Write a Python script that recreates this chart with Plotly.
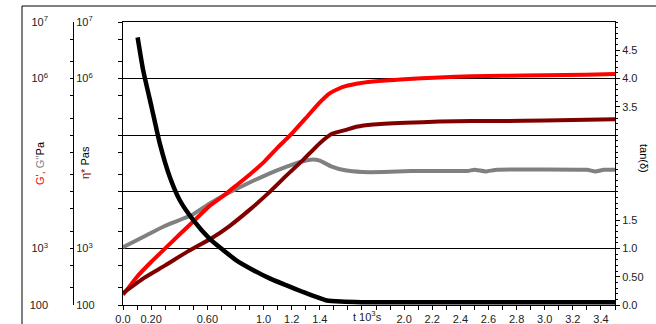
import plotly.graph_objects as go

# ---------------- data ----------------
# time in 10^3 s
t_gp = [0.00, 0.10, 0.20, 0.30, 0.40, 0.51, 0.62, 0.72, 0.80, 0.90, 1.00, 1.10, 1.19, 1.30,
        1.40, 1.47, 1.56, 1.66, 1.78, 2.00, 2.25, 2.48, 2.70, 3.00, 3.29, 3.50]
g_prime = [151, 316, 575, 1000, 1740, 3160, 5750, 8710, 12600, 20000, 33100, 60300, 100000,
           200000, 380000, 550000, 708000, 813000, 891000, 977000, 1050000, 1100000,
           1120000, 1150000, 1170000, 1200000]

t_gpp = [0.00, 0.15, 0.30, 0.49, 0.62, 0.72, 0.82, 0.93, 1.04, 1.16, 1.28, 1.35, 1.40, 1.48,
         1.58, 1.70, 1.85, 2.05, 2.45, 2.50, 2.58, 2.66, 3.30, 3.36, 3.42, 3.50]
g_dprime = [1050, 1620, 2510, 3890, 6310, 8710, 11700, 15800, 20900, 27500, 34700, 37200,
            35500, 28200, 24000, 22400, 22400, 23400, 23400, 24500, 22900, 24500, 24500,
            22900, 24500, 24500]

t_eta = [0.00, 0.15, 0.30, 0.45, 0.63, 0.76, 0.90, 1.04, 1.16, 1.28, 1.40, 1.49, 1.58, 1.66,
         1.78, 2.01, 2.25, 2.48, 2.70, 3.00, 3.20, 3.50]
eta = [162, 302, 501, 851, 1510, 2510, 4790, 9770, 19100, 36300, 72400, 107000, 123000,
       141000, 155000, 166000, 174000, 178000, 178000, 182000, 186000, 191000]

t_tan = [0.104, 0.144, 0.203, 0.262, 0.333, 0.404, 0.50, 0.617, 0.688, 0.806, 0.924, 1.043,
         1.16, 1.28, 1.40, 1.45, 1.55, 1.70, 2.50, 3.50]
tan_delta = [4.73, 4.14, 3.50, 2.85, 2.26, 1.85, 1.50, 1.17, 1.02, 0.79, 0.62, 0.47,
             0.35, 0.23, 0.12, 0.08, 0.06, 0.05, 0.05, 0.05]

x_tickvals = [0.0, 0.2, 0.6, 1.0, 1.2, 1.4, 2.0, 2.2, 2.4, 2.6, 2.8, 3.0, 3.2, 3.4]
x_ticktext = ["0.0", "0.20", "0.60", "1.0", "1.2", "1.4", "2.0", "2.2", "2.4", "2.6",
              "2.8", "3.0", "3.2", "3.4"]
log_tickvals = [100, 1e3, 1e6, 1e7]
log_ticktext = ["100", "10<sup>3</sup>", "10<sup>6</sup>", "10<sup>7</sup>"]
log_minor = [m * 10 ** e for e in range(2, 7) for m in (2, 5)]
tan_tickvals = [0.0, 0.5, 1.0, 1.5, 3.5, 4.0, 4.5]
tan_ticktext = ["0.0", "0.50", "1.0", "1.5", "3.5", "4.0", "4.5"]

# ---------------- figure ----------------
W, H = 656, 324
L, R, T, B = 123, 615, 22, 305  # plot area in px
FONT = "Liberation Sans, Arial, sans-serif"

def px_x(p):
    return p / W

def px_y(p):
    return (B - p) / (B - T)

fig = go.Figure()
fig.add_trace(go.Scatter(x=t_gpp, y=g_dprime, mode="lines", yaxis="y",
                         line=dict(color="#808080", width=4, shape="spline", smoothing=0.4),
                         hoverinfo="skip", showlegend=False))
fig.add_trace(go.Scatter(x=t_gp, y=g_prime, mode="lines", yaxis="y2",
                         line=dict(color="#ff0000", width=4, shape="spline", smoothing=0.4),
                         hoverinfo="skip", showlegend=False))
fig.add_trace(go.Scatter(x=t_eta, y=eta, mode="lines", yaxis="y3",
                         line=dict(color="#800000", width=4, shape="spline", smoothing=0.4),
                         hoverinfo="skip", showlegend=False))
fig.add_trace(go.Scatter(x=t_tan, y=tan_delta, mode="lines", yaxis="y4",
                         line=dict(color="#000000", width=4.5, shape="spline", smoothing=0.5),
                         hoverinfo="skip", showlegend=False))

tickfont = dict(family=FONT, size=11, color="#222222")

fig.update_layout(
    width=W, height=H,
    margin=dict(l=0, r=0, t=T, b=H - B, pad=0),
    paper_bgcolor="white", plot_bgcolor="white",
    font=dict(family=FONT, size=11, color="#000"),
    xaxis=dict(domain=[px_x(L), px_x(R)], range=[0, 3.5], showline=True, linecolor="#000",
               linewidth=1, mirror=True, ticks="outside", ticklen=4, tickcolor="#000",
               tickvals=x_tickvals, ticktext=x_ticktext,
               minor=dict(dtick=0.1, tick0=0, ticks="outside", ticklen=4, tickcolor="#000",
                          showgrid=False),
               tickfont=tickfont, showgrid=False, zeroline=False, automargin=False),
    yaxis=dict(type="log", range=[2, 7], showline=True, linecolor="#000", linewidth=1,
               ticks="outside", ticklen=4, tickcolor="#000", tickvals=[10 ** e for e in range(2, 8)],
               showticklabels=False, showgrid=True, gridcolor="#000", gridwidth=1,
               minor=dict(tickvals=log_minor, ticks="outside", ticklen=4, tickcolor="#000",
                          showgrid=False),
               zeroline=False, automargin=False),
    yaxis2=dict(type="log", range=[2, 7], overlaying="y", anchor="free", side="left",
                position=px_x(48), showline=False, ticks="", tickvals=log_tickvals,
                ticktext=log_ticktext, tickfont=tickfont, showgrid=False, zeroline=False,
                automargin=False),
    yaxis3=dict(type="log", range=[2, 7], overlaying="y", anchor="free", side="right",
                position=px_x(73), showline=True, linecolor="#000", linewidth=1,
                ticks="inside", ticklen=3, tickcolor="#000", tickvals=log_tickvals,
                ticktext=log_ticktext, tickfont=tickfont, showgrid=False, zeroline=False,
                minor=dict(tickvals=log_minor + [1e4, 1e5], ticks="inside", ticklen=3,
                           tickcolor="#000", showgrid=False),
                automargin=False),
    yaxis4=dict(range=[0, 5], overlaying="y", anchor="x", side="right", showline=True,
                linecolor="#000", linewidth=1, ticks="outside", ticklen=4, tickcolor="#000",
                tickvals=tan_tickvals, ticktext=tan_ticktext, tickfont=tickfont,
                minor=dict(dtick=0.1, ticks="outside", ticklen=2, tickcolor="#000",
                           showgrid=False),
                showgrid=False, zeroline=False, automargin=False),
    shapes=[
        dict(type="line", xref="paper", yref="paper", x0=px_x(22), x1=1.01,
             y0=px_y(6), y1=px_y(6), line=dict(color="#000", width=1)),
        dict(type="line", xref="paper", yref="paper", x0=px_x(22), x1=px_x(22),
             y0=px_y(6), y1=px_y(330), line=dict(color="#000", width=1)),
    ],
    annotations=[
        dict(xref="paper", yref="paper", x=px_x(40), y=px_y(163), textangle=-90,
             showarrow=False, xanchor="center", yanchor="middle",
             font=dict(family=FONT, size=11, color="#000"),
             text="<span style='color:#ff0000'>G',</span> <span style='color:#808080'>G''</span>Pa"),
        dict(xref="paper", yref="paper", x=px_x(85), y=px_y(163), textangle=-90,
             showarrow=False, xanchor="center", yanchor="middle",
             font=dict(family=FONT, size=11, color="#000"),
             text="<span style='color:#800000'>η*</span> Pas"),
        dict(xref="paper", yref="paper", x=px_x(644), y=px_y(158), textangle=90,
             showarrow=False, xanchor="center", yanchor="middle",
             font=dict(family=FONT, size=11, color="#000"),
             text="tan(δ)"),
        dict(xref="x", yref="paper", x=1.74, y=px_y(316), showarrow=False,
             xanchor="center", yanchor="middle",
             font=dict(family=FONT, size=11, color="#222"),
             text="t 10<sup>3</sup>s"),
    ],
)

fig.write_html("out.html", config={"displayModeBar": False, "staticPlot": True},
               post_script="document.body.style.margin='0px';")
